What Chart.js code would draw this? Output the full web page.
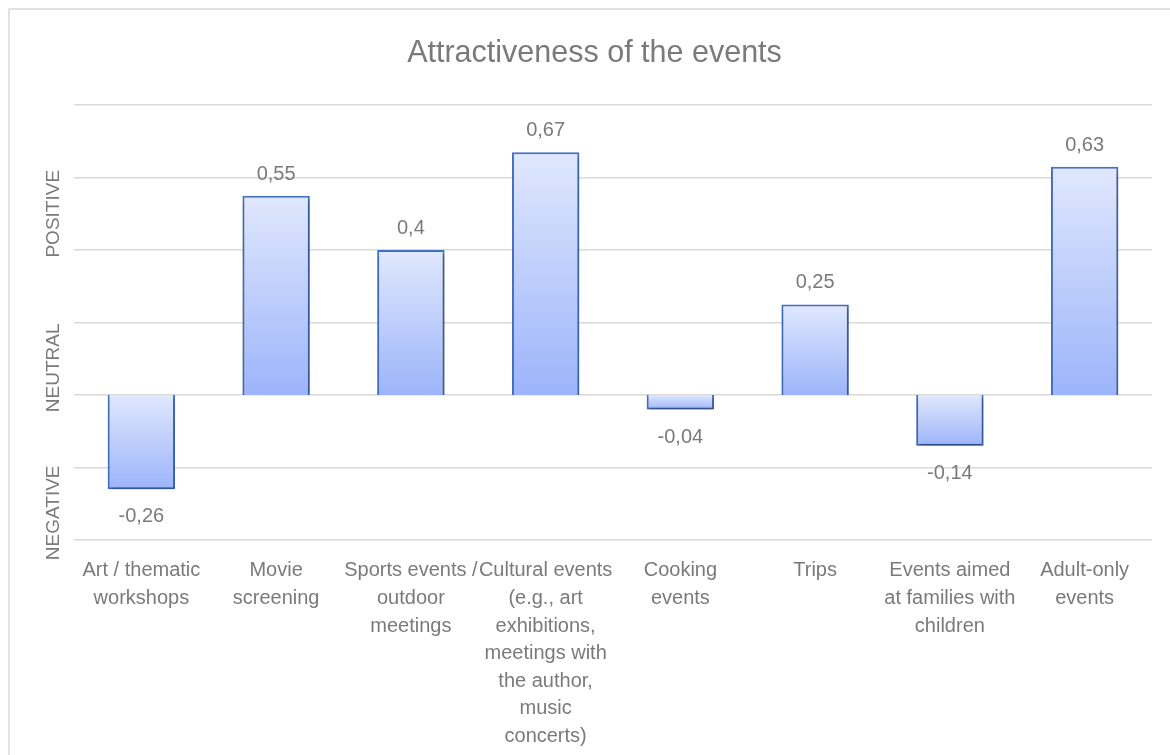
<!DOCTYPE html>
<html>
<head>
<meta charset="utf-8">
<title>Attractiveness of the events</title>
<script src="https://cdn.jsdelivr.net/npm/chart.js@4.4.1/dist/chart.umd.min.js"></script>
<style>
    html, body { margin: 0; padding: 0; background: #fff; }
    #wrap { width: 1170px; height: 755px; position: relative; }
</style>
</head>
<body>
<div id="wrap"><canvas id="mychart"></canvas></div>
<script>
// event types, one array per wrapped label
var categories = [
    ['Art / thematic', 'workshops'],
    ['Movie', 'screening'],
    ['Sports events /', 'outdoor', 'meetings'],
    ['Cultural events', '(e.g., art', 'exhibitions,', 'meetings with', 'the author,', 'music', 'concerts)'],
    ['Cooking', 'events'],
    ['Trips'],
    ['Events aimed', 'at families with', 'children'],
    ['Adult-only', 'events']
];
var scores = [-0.26, 0.55, 0.4, 0.67, -0.04, 0.25, -0.14, 0.63];

// rating words on the left side and the value each one is centred on
var sideLabels = ['POSITIVE', 'NEUTRAL', 'NEGATIVE'];
var sideLabelValues = [0.5, 0.075, -0.325];

var FONT = "'Liberation Sans', Arial, sans-serif";
var TEXT = '#7a7a7a';
var GRID = '#d9d9d9';

Chart.defaults.font.family = FONT;
Chart.defaults.color = TEXT;

function fmt(v) {
    return String(v).replace('.', ',');
}

// light frame along the top and left edge
var framePlugin = {
    id: 'frame',
    beforeDraw: function (chart) {
        var c = chart.ctx;
        c.save();
        c.strokeStyle = GRID;
        c.lineWidth = 1.5;
        c.beginPath();
        c.moveTo(9, chart.height);
        c.lineTo(9, 9);
        c.lineTo(chart.width, 9);
        c.stroke();
        c.restore();
    }
};

// soft drop shadow under the bars
var shadowPlugin = {
    id: 'barShadow',
    beforeDatasetsDraw: function (chart) {
        var c = chart.ctx;
        c.save();
        c.shadowColor = 'rgba(0,0,0,0.35)';
        c.shadowBlur = 4;
        c.shadowOffsetX = 1;
        c.shadowOffsetY = 3;
    },
    afterDatasetsDraw: function (chart) {
        chart.ctx.restore();
    }
};

// value labels above / below each bar, plus rotated rating words
var labelPlugin = {
    id: 'valueLabels',
    afterDatasetsDraw: function (chart) {
        var c = chart.ctx;
        var meta = chart.getDatasetMeta(0);
        c.save();
        c.fillStyle = TEXT;
        c.font = '20px ' + FONT;
        c.textAlign = 'center';
        c.textBaseline = 'alphabetic';
        meta.data.forEach(function (bar, i) {
            var v = scores[i];
            var y = v >= 0 ? bar.y - 16 : bar.y + 33;
            c.fillText(fmt(v), bar.x, y);
        });

        var yScale = chart.scales.y;
        c.font = '19px ' + FONT;
        c.textBaseline = 'middle';
        sideLabels.forEach(function (txt, i) {
            c.save();
            c.translate(54, yScale.getPixelForValue(sideLabelValues[i]));
            c.rotate(-Math.PI / 2);
            c.fillText(txt, 0, 0);
            c.restore();
        });
        c.restore();
    }
};

function barGradient(ctx) {
    var chart = ctx.chart;
    var y = chart.scales.y;
    if (!chart.chartArea || !y) return '#bfcefb';
    var a = y.getPixelForValue(ctx.raw);
    var b = y.getPixelForValue(0);
    var top = Math.min(a, b), bottom = Math.max(a, b);
    if (bottom - top < 1) bottom = top + 1;
    var g = chart.ctx.createLinearGradient(0, top, 0, bottom);
    g.addColorStop(0, '#e0e8fd');
    g.addColorStop(1, '#9cb4fa');
    return g;
}

const ctr = document.getElementById('mychart');

new Chart(ctr, {
    type: 'bar',
    data: {
        labels: categories,
        datasets: [{
            label: 'Attractiveness',
            data: scores,
            backgroundColor: barGradient,
            borderColor: '#4472c4',
            borderWidth: 2,
            barPercentage: 0.5,
            categoryPercentage: 1
        }]
    },
    options: {
        responsive: true,
        maintainAspectRatio: false,
        animation: false,
        layout: {
            padding: { left: 37, right: 18, top: 0, bottom: 0 }
        },
        plugins: {
            legend: { display: false },
            tooltip: { enabled: false },
            title: {
                display: true,
                text: 'Attractiveness of the events',
                color: TEXT,
                font: { size: 30.5, weight: 'normal' },
                padding: { top: 35, bottom: 33.4 }
            }
        },
        scales: {
            x: {
                grid: { display: false, drawTicks: false },
                border: { display: false },
                ticks: {
                    color: TEXT,
                    font: { size: 20, lineHeight: 1.38 },
                    padding: 17,
                    maxRotation: 0,
                    minRotation: 0,
                    autoSkip: false
                },
                afterFit: function (s) { s.height = 215; }
            },
            y: {
                min: -0.4,
                max: 0.8,
                ticks: { display: false, stepSize: 0.2 },
                grid: { color: GRID, lineWidth: 1.5, drawTicks: false },
                border: { display: false },
                afterFit: function (s) { s.width = 37; }
            }
        }
    },
    plugins: [framePlugin, shadowPlugin, labelPlugin]
});
</script>
</body>
</html>
